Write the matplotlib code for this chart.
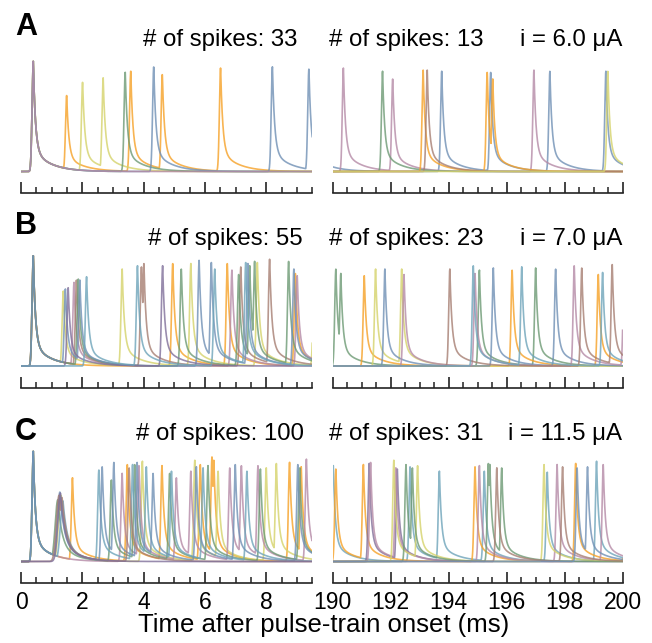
import numpy as np
import matplotlib
matplotlib.use("Agg")
import matplotlib.pyplot as plt
from matplotlib.ticker import MultipleLocator

plt.rcParams["font.family"] = ["Liberation Sans", "DejaVu Sans"]

# trial colours
palette = {
    "orange": "#f6a127",
    "yellow": "#d5d36b",
    "green": "#6d9a74",
    "blue": "#7090b5",
    "teal": "#6ea4ba",
    "mauve": "#b58aa6",
    "brown": "#a67e72",
    "purple": "#80709a",
}

# ---------------- spike data ----------------
# panel A, 0-9.5 ms
a_left_times = [0.40, 0.40, 0.40, 0.40, 0.40, 1.49, 2.01, 2.68, 3.40, 3.58, 4.33, 4.61, 6.51, 8.20, 9.39]
a_left_heights = [1.0, 1.0, 1.0, 1.0, 1.0, 0.69, 0.81, 0.85, 0.90, 0.91, 0.95, 0.88, 0.94, 0.95, 0.93]
a_left_colors = ["orange", "yellow", "green", "blue", "mauve", "orange", "yellow", "yellow", "green",
                 "orange", "blue", "orange", "orange", "blue", "blue"]

# panel A, 190-200 ms
a_right_times = [189.2, 190.37, 191.72, 192.07, 193.12, 193.26, 193.76, 195.33, 195.45, 195.52,
                 196.94, 197.49, 199.42, 199.49]
a_right_heights = [0.90, 0.94, 0.91, 0.84, 0.92, 0.92, 0.91, 0.90, 0.90, 0.84, 0.92, 0.91, 0.91, 0.91]
a_right_colors = ["blue", "mauve", "green", "mauve", "orange", "brown", "blue", "orange", "blue",
                  "orange", "mauve", "blue", "blue", "yellow"]

# panel B, 0-9.5 ms
b_left_times = [0.40, 0.40, 0.40, 0.40, 0.40, 0.40, 1.38, 1.45, 1.54, 1.73, 1.81, 1.87, 1.92, 2.14,
                3.30, 3.80, 3.93, 4.01, 4.62, 4.95, 5.23, 5.54, 5.81, 6.21, 6.32, 6.73, 6.88,
                7.10, 7.17, 7.33, 7.40, 7.46, 7.62, 7.71, 8.11, 8.73, 8.90, 8.95, 9.01, 9.56]
b_left_heights = [1.0, 1.0, 1.0, 1.0, 1.0, 1.0, 0.68, 0.70, 0.71, 0.76, 0.78, 0.79, 0.78, 0.81,
                  0.88, 0.91, 0.90, 0.93, 0.91, 0.93, 0.88, 0.93, 0.96, 0.94, 0.88, 0.93, 0.87,
                  0.83, 0.90, 0.94, 0.93, 0.91, 0.95, 0.94, 0.97, 0.95, 0.88, 0.84, 0.82, 0.80]
b_left_colors = ["orange", "yellow", "mauve", "brown", "green", "blue", "yellow", "blue", "purple",
                 "mauve", "brown", "green", "blue", "teal", "yellow", "teal", "brown", "brown",
                 "purple", "orange", "green", "yellow", "blue", "blue", "teal", "orange", "mauve",
                 "green", "brown", "teal", "blue", "green", "green", "yellow", "brown", "green",
                 "blue", "orange", "mauve", "yellow"]

# panel B, 190-200 ms
b_right_times = [190.11, 190.28, 191.09, 191.48, 191.80, 192.38, 192.46, 194.04, 194.85, 194.91,
                 195.06, 195.54, 196.19, 196.52, 197.00, 197.69, 198.33, 198.59, 199.16, 199.31,
                 199.64, 200.05]
b_right_heights = [0.88, 0.84, 0.82, 0.88, 0.88, 0.88, 0.83, 0.88, 0.91, 0.84, 0.87, 0.89, 0.87,
                   0.90, 0.89, 0.88, 0.91, 0.89, 0.83, 0.85, 0.92, 0.85]
b_right_colors = ["green", "green", "orange", "yellow", "blue", "yellow", "mauve", "brown", "teal",
                  "mauve", "green", "blue", "orange", "teal", "green", "blue", "mauve", "brown",
                  "orange", "teal", "brown", "mauve"]

# panel C, 0-9.5 ms
c_left_times = [0.40, 0.40, 0.40, 0.40, 0.40, 0.40, 1.68, 2.54, 2.65, 2.95, 3.03, 3.30, 3.47, 3.53,
                3.64, 3.71, 3.79, 3.85, 3.96, 4.09, 4.31, 4.60, 4.85, 4.91, 5.07, 5.54, 5.67,
                5.72, 5.85, 5.94, 6.10, 6.23, 6.29, 6.43, 6.81, 6.99, 7.19, 7.37, 7.73, 7.81,
                8.00, 8.33, 8.76, 9.03, 9.09, 9.14, 9.31, 9.56]
c_left_heights = [1.0, 1.0, 1.0, 1.0, 1.0, 1.0, 0.76, 0.83, 0.86, 0.74, 0.90, 0.80, 0.88, 0.85,
                  0.88, 0.88, 0.90, 0.87, 0.91, 0.86, 0.80, 0.87, 0.80, 0.82, 0.76, 0.82, 0.92,
                  0.86, 0.88, 0.85, 0.87, 0.95, 0.92, 0.82, 0.85, 0.88, 0.87, 0.82, 0.87, 0.84,
                  0.85, 0.89, 0.90, 0.88, 0.85, 0.86, 0.93, 0.85]
c_left_colors = ["orange", "yellow", "mauve", "green", "teal", "blue", "orange", "teal", "blue",
                 "green", "blue", "mauve", "orange", "brown", "teal", "green", "blue", "mauve",
                 "yellow", "teal", "blue", "orange", "green", "teal", "mauve", "mauve", "yellow",
                 "blue", "orange", "teal", "green", "orange", "orange", "yellow", "mauve", "blue",
                 "mauve", "teal", "mauve", "green", "yellow", "yellow", "orange", "blue", "green",
                 "orange", "mauve", "mauve"]
# broad, low spikes around 1.3 ms in panel C
c_slow_times = [1.20, 1.24, 1.27, 1.29, 1.31, 1.34, 1.37]
c_slow_heights = [0.56, 0.60, 0.63, 0.62, 0.60, 0.58, 0.55]
c_slow_colors = ["green", "brown", "blue", "purple", "yellow", "brown", "teal"]

# panel C, 190-200 ms
c_right_times = [190.02, 190.11, 191.06, 191.26, 191.31, 192.11, 192.18, 192.23, 192.53, 192.67,
                 192.75, 192.93, 193.68, 194.91, 195.06, 195.23, 195.37, 195.42, 195.66, 195.83,
                 197.29, 197.40, 197.74, 197.93, 198.38, 198.43, 198.79, 199.10, 199.33, 200.10]
c_right_heights = [0.87, 0.84, 0.88, 0.89, 0.90, 0.92, 0.85, 0.84, 0.88, 0.86, 0.85, 0.87, 0.82,
                   0.86, 0.87, 0.82, 0.89, 0.88, 0.85, 0.85, 0.88, 0.81, 0.88, 0.86, 0.89, 0.85,
                   0.86, 0.91, 0.88, 0.80]
c_right_colors = ["teal", "orange", "orange", "purple", "mauve", "yellow", "mauve", "purple",
                  "green", "teal", "green", "yellow", "teal", "orange", "mauve", "teal", "green",
                  "green", "brown", "green", "yellow", "teal", "mauve", "brown", "orange", "blue",
                  "blue", "teal", "mauve", "orange"]

spike_counts = [(33, 13), (55, 23), (100, 31)]
currents = ["6.0", "7.0", "11.5"]
panel_letters = ["A", "B", "C"]
left_ticks = [0, 2, 4, 6, 8]
right_ticks = [190, 192, 194, 196, 198, 200]
xlabel = "Time after pulse-train onset (ms)"


def spike_shape(t, t0, amp, rise=0.055, fast=0.07, slow=0.55, tail=0.2):
    dt = t - t0
    pos = np.clip(dt, 0, None)
    v = np.where(dt < 0,
                 np.exp(-(dt / rise) ** 2),
                 (1 - tail) * np.exp(-pos / fast) + tail * np.exp(-pos / slow))
    return amp * v


def draw_traces(ax, t, times, heights, colors, slow=None):
    order = []
    for c in colors + (slow[2] if slow else []):
        if c not in order:
            order.append(c)
    for c in order:
        trace = np.zeros_like(t)
        for t0, h, cc in zip(times, heights, colors):
            if cc == c:
                trace = np.maximum(trace, spike_shape(t, t0, h))
        if slow:
            for t0, h, cc in zip(*slow):
                if cc == c:
                    trace = np.maximum(trace, spike_shape(t, t0, h, rise=0.12, fast=0.13,
                                                          slow=0.5, tail=0.3))
        ax.plot(t, trace, color=palette[c], lw=1.2, alpha=0.8)


def style_axis(ax, xlim, major, show_labels):
    ax.set_xlim(*xlim)
    ax.set_ylim(-0.195, 1.03)
    for s in ["top", "right", "left"]:
        ax.spines[s].set_visible(False)
    ax.spines["bottom"].set_linewidth(1.2)
    ax.spines["bottom"].set_color("#222222")
    ax.set_yticks([])
    ax.set_xticks(major)
    ax.xaxis.set_minor_locator(MultipleLocator(0.5))
    ax.tick_params(axis="x", which="major", direction="in", length=8, width=1.2,
                   color="#222222", labelsize=16.5, pad=6, labelbottom=show_labels)
    ax.tick_params(axis="x", which="minor", direction="in", length=4.5, width=1.1,
                   color="#222222")
    ax.patch.set_alpha(0)


W, H = 652, 643
fig = plt.figure(figsize=(W / 100, H / 100), dpi=100)


def add_axes_px(x0, x1, ytop, ybot):
    return fig.add_axes([x0 / W, 1 - ybot / H, (x1 - x0) / W, (ybot - ytop) / H])


panels = [
    (a_left_times, a_left_heights, a_left_colors, a_right_times, a_right_heights, a_right_colors, None),
    (b_left_times, b_left_heights, b_left_colors, b_right_times, b_right_heights, b_right_colors, None),
    (c_left_times, c_left_heights, c_left_colors, c_right_times, c_right_heights, c_right_colors,
     (c_slow_times, c_slow_heights, c_slow_colors)),
]
axis_bottoms = [193, 387.5, 583]
title_baselines = [46, 245, 440]
letter_baselines = [35, 234, 440]
left_title_right = [297, 303, 304]

t_left = np.arange(0, 9.5, 0.004)
t_right = np.arange(190, 200, 0.004)

for i, (lt, lh, lc, rt, rh, rc, slow) in enumerate(panels):
    yb = axis_bottoms[i]
    axl = add_axes_px(21, 312.3, yb - 135, yb)
    axr = add_axes_px(332.7, 622.7, yb - 135, yb)
    draw_traces(axl, t_left, lt, lh, lc, slow)
    draw_traces(axr, t_right, rt, rh, rc)
    last = i == 2
    style_axis(axl, (0, 9.5), left_ticks, last)
    style_axis(axr, (190, 200), right_ticks, last)

    ty = 1 - title_baselines[i] / H
    fig.text(15 / W, 1 - letter_baselines[i] / H, panel_letters[i], fontsize=22,
             fontweight="bold", va="baseline", ha="left")
    fig.text(left_title_right[i] / W, ty, f"# of spikes: {spike_counts[i][0]}", fontsize=17.3,
             va="baseline", ha="right")
    fig.text(329 / W, ty, f"# of spikes: {spike_counts[i][1]}", fontsize=17.3,
             va="baseline", ha="left")
    fig.text(622 / W, ty, f"i = {currents[i]} \u03bcA", fontsize=17.3,
             va="baseline", ha="right")

fig.text(324 / W, 1 - 632 / H, xlabel, fontsize=18.5, va="baseline", ha="center")

fig.savefig("out.png", dpi=100)
